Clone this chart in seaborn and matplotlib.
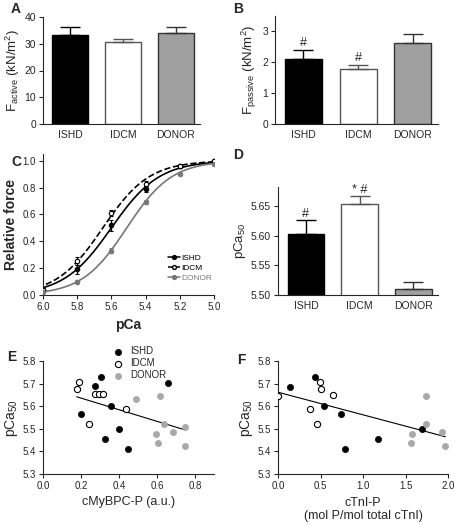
import numpy as np
import pandas as pd
import matplotlib
matplotlib.use("Agg")
import matplotlib.pyplot as plt
import seaborn as sns

sns.set_theme(style="ticks")
plt.rcParams["font.family"] = ["Liberation Sans", "DejaVu Sans"]
plt.rcParams["mathtext.default"] = "regular"
plt.rcParams["axes.linewidth"] = 0.8
plt.rcParams["xtick.major.size"] = 3
plt.rcParams["ytick.major.size"] = 3
plt.rcParams["xtick.major.width"] = 0.8
plt.rcParams["ytick.major.width"] = 0.8
plt.rcParams["xtick.major.pad"] = 2
plt.rcParams["ytick.major.pad"] = 2
plt.rcParams["axes.labelpad"] = 2

# ---- data ----
groups = ["ISHD", "IDCM", "DONOR"]
bar_fill = ["black", "white", "#a0a0a0"]
bar_edge = ["black", "#555555", "#333333"]

f_active = [33.1, 30.5, 33.9]
f_active_sem = [3.0, 1.25, 2.35]
f_passive = [2.10, 1.79, 2.63]
f_passive_sem = [0.31, 0.13, 0.29]
pca50 = [5.602, 5.653, 5.510]
pca50_sem = [0.024, 0.013, 0.012]
marks_b = ["#", "#", ""]
marks_d = ["#", "* #", ""]

pca_steps = [6.0, 5.8, 5.6, 5.4, 5.2, 5.0]
force_ishd = [0.037, 0.19, 0.52, 0.79, 0.957, 1.0]
force_ishd_sem = [0.01, 0.03, 0.04, 0.02, 0.01, 0.0]
force_idcm = [0.04, 0.25, 0.61, 0.83, 0.96, 1.0]
force_idcm_sem = [0.01, 0.03, 0.02, 0.02, 0.01, 0.0]
force_donor = [0.02, 0.10, 0.33, 0.69, 0.90, 0.978]
force_donor_sem = [0.005, 0.01, 0.02, 0.015, 0.01, 0.005]
hill_pca50 = [5.60, 5.65, 5.51]
hill_n = [3.1, 3.2, 3.3]

# panel E: cMyBPC-P vs pCa50
e_ishd_x = [0.305, 0.274, 0.356, 0.202, 0.40, 0.328, 0.449, 0.66]
e_ishd_y = [5.727, 5.689, 5.600, 5.564, 5.500, 5.454, 5.411, 5.703]
e_idcm_x = [0.191, 0.177, 0.274, 0.296, 0.317, 0.244, 0.437]
e_idcm_y = [5.707, 5.678, 5.652, 5.652, 5.652, 5.521, 5.587]
e_donor_x = [0.489, 0.616, 0.637, 0.747, 0.595, 0.686, 0.604, 0.747]
e_donor_y = [5.630, 5.646, 5.521, 5.508, 5.477, 5.485, 5.439, 5.426]

# panel F: cTnI-P vs pCa50
f_ishd_x = [0.138, 0.44, 0.538, 0.738, 0.793, 1.176, 1.699]
f_ishd_y = [5.686, 5.727, 5.600, 5.564, 5.411, 5.454, 5.499]
f_idcm_x = [0.0, 0.49, 0.51, 0.647, 0.377, 0.463]
f_idcm_y = [5.646, 5.705, 5.678, 5.649, 5.587, 5.521]
f_donor_x = [1.746, 1.738, 1.581, 1.569, 1.934, 1.969]
f_donor_y = [5.646, 5.521, 5.476, 5.439, 5.486, 5.426]

W, H = 455, 524
fig = plt.figure(figsize=(W / 100, H / 100), dpi=100)


def px_axes(left, top, right, bottom):
    return fig.add_axes([left / W, 1 - bottom / H, (right - left) / W, (bottom - top) / H])


def bar_panel(ax, vals, sems, ylabel, marks=None, mark_gap=0.0):
    df = pd.DataFrame({"group": groups, "val": vals})
    sns.barplot(data=df, x="group", y="val", hue="group", palette=bar_fill,
                width=0.68, errorbar=None, legend=False, ax=ax)
    for i, patch in enumerate(ax.patches):
        patch.set_edgecolor(bar_edge[i])
        patch.set_linewidth(1.0)
    for i in range(3):
        ax.errorbar(i, vals[i], yerr=[[0], [sems[i]]], color=bar_edge[i],
                    capsize=7, elinewidth=1.0, capthick=1.0, fmt="none")
        if marks and marks[i]:
            ax.text(i, vals[i] + sems[i] + mark_gap, marks[i], ha="center",
                    va="bottom", fontsize=9)
    ax.set_xlim(-0.52, 2.46)
    ax.set_xlabel("")
    ax.set_ylabel(ylabel, fontsize=9.5)
    ax.tick_params(axis="x", labelsize=7.5, length=0, pad=4)
    ax.tick_params(axis="y", labelsize=7.5)
    sns.despine(ax=ax)


# A
axA = px_axes(43, 17, 200, 124)
bar_panel(axA, f_active, f_active_sem, "F$_{active}$ (kN/m$^2$)")
axA.set_ylim(0, 40)
axA.set_yticks([0, 10, 20, 30, 40])

# B
axB = px_axes(275, 16, 438, 124)
bar_panel(axB, f_passive, f_passive_sem, "F$_{passive}$ (kN/m$^2$)", marks_b, 0.02)
axB.set_ylim(0, 3.5)
axB.set_yticks([0, 1, 2, 3])

# C
axC = px_axes(43, 154, 214, 295)
curve_x = np.linspace(6.0, 5.0, 200)
series = [
    ("ISHD", force_ishd, force_ishd_sem, "black", "black", "-"),
    ("IDCM", force_idcm, force_idcm_sem, "black", "white", "--"),
    ("DONOR", force_donor, force_donor_sem, "#777777", "#777777", "-"),
]
for k, (name, f, s, col, face, ls) in enumerate(series):
    fit = 1 / (1 + 10 ** (hill_n[k] * (curve_x - hill_pca50[k])))
    sns.lineplot(x=curve_x, y=fit, color=col, linestyle=ls, lw=1.2, ax=axC)
    axC.errorbar(pca_steps, f, yerr=s, fmt="o", ms=3.2, mfc=face, mec=col,
                 mew=0.8, color=col, elinewidth=0.9, capsize=1.5, zorder=3)
handles = [
    plt.Line2D([], [], color=col, ls=ls, lw=1.1, marker="o", ms=2.8, mfc=face, mec=col)
    for (_, _, _, col, face, ls) in series
]
legC = axC.legend(handles, groups, loc="lower right", bbox_to_anchor=(1.02, 0.06),
                  fontsize=6, frameon=False, handlelength=1.4, handletextpad=0.2,
                  labelspacing=0.25, borderpad=0.1)
for txt, (_, _, _, col, _, _) in zip(legC.get_texts(), series):
    txt.set_color(col)
axC.set_xlim(6.0, 5.0)
axC.set_ylim(0, 1.05)
axC.set_xticks([6.0, 5.8, 5.6, 5.4, 5.2, 5.0])
axC.set_xticklabels(["6.0", "5.8", "5.6", "5.4", "5.2", "5.0"])
axC.set_yticks([0, 0.2, 0.4, 0.6, 0.8, 1.0])
axC.set_yticklabels(["0.0", "0.2", "0.4", "0.6", "0.8", "1.0"])
axC.tick_params(labelsize=7)
axC.set_xlabel("pCa", fontsize=10, fontweight="bold", labelpad=4)
axC.set_ylabel("Relative force", fontsize=10, fontweight="bold", labelpad=3)
sns.despine(ax=axC)

# D
axD = px_axes(278, 187, 438, 295)
bar_panel(axD, pca50, pca50_sem, "pCa$_{50}$", marks_d, 0.001)
axD.set_ylim(5.5, 5.682)
axD.set_yticks([5.50, 5.55, 5.60, 5.65])
axD.set_yticklabels(["5.50", "5.55", "5.60", "5.65"])


def scatter_panel(ax, ix, iy, ox, oy, dx, dy, legend=False):
    sns.scatterplot(x=ix, y=iy, color="black", edgecolor="black", s=20, lw=0.5,
                    label="ISHD", ax=ax, zorder=3)
    sns.scatterplot(x=ox, y=oy, color="white", edgecolor="black", s=20, lw=0.8,
                    label="IDCM", ax=ax, zorder=3)
    sns.scatterplot(x=dx, y=dy, color="#a8a8a8", edgecolor="#a8a8a8", s=20, lw=0.5,
                    label="DONOR", ax=ax, zorder=3)
    sns.regplot(x=np.array(ix + ox + dx), y=np.array(iy + oy + dy), scatter=False,
                ci=None, color="black", line_kws=dict(lw=0.8), ax=ax)
    if legend:
        ax.legend(loc="upper left", bbox_to_anchor=(0.35, 1.18), fontsize=7,
                  frameon=False, handletextpad=0.2, labelspacing=0.2, borderpad=0.1,
                  markerscale=1.0)
    else:
        ax.get_legend().remove()
    ax.set_ylim(5.3, 5.8)
    ax.set_yticks([5.3, 5.4, 5.5, 5.6, 5.7, 5.8])
    ax.set_ylabel("pCa$_{50}$", fontsize=10)
    ax.tick_params(labelsize=7)
    sns.despine(ax=ax)


# E
axE = px_axes(43, 361, 214, 474)
scatter_panel(axE, e_ishd_x, e_ishd_y, e_idcm_x, e_idcm_y, e_donor_x, e_donor_y, legend=True)
axE.set_xlim(0, 0.9)
axE.set_xticks([0.0, 0.2, 0.4, 0.6, 0.8])
axE.set_xlabel("cMyBPC-P (a.u.)", fontsize=9, labelpad=4)

# F
axF = px_axes(278, 361, 448, 474)
scatter_panel(axF, f_ishd_x, f_ishd_y, f_idcm_x, f_idcm_y, f_donor_x, f_donor_y)
axF.set_xlim(0, 2.0)
axF.set_xticks([0.0, 0.5, 1.0, 1.5, 2.0])
axF.set_xlabel("cTnI-P\n(mol P/mol total cTnI)", fontsize=9, labelpad=4)

# panel letters
for letter, x, y in [("A", 16, 9), ("B", 238, 9), ("C", 16, 162), ("D", 238, 155),
                     ("E", 12, 357), ("F", 241, 360)]:
    fig.text(x / W, 1 - y / H, letter, fontsize=10, fontweight="bold",
             ha="center", va="center")

fig.savefig("out.png", dpi=100)
